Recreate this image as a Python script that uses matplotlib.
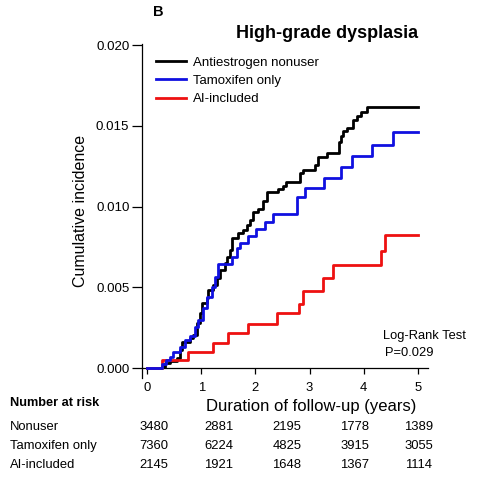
import numpy as np
import matplotlib
matplotlib.use("Agg")
import matplotlib.pyplot as plt
from matplotlib.transforms import blended_transform_factory

plt.rcParams['font.family'] = ['Liberation Sans', 'DejaVu Sans']

# step curves: (years, cumulative incidence) at each jump
nonuser_t = [0, 0.266, 0.327, 0.420, 0.544, 0.605, 0.642, 0.790, 0.851, 0.913, 0.974,
             1.006, 1.098, 1.128, 1.220, 1.283, 1.344, 1.437, 1.468, 1.529, 1.561,
             1.683, 1.775, 1.838, 1.899, 1.960, 2.053, 2.145, 2.208, 2.422, 2.509,
             2.565, 2.824, 2.873, 3.101, 3.162, 3.317, 3.545, 3.591, 3.619, 3.693,
             3.809, 3.872, 3.946, 4.057, 5.0]
nonuser_v = [0, 0.00008, 0.00029, 0.00043, 0.00060, 0.00111, 0.00161, 0.00186, 0.00204,
             0.00279, 0.00341, 0.00401, 0.00432, 0.00483, 0.00514, 0.00557, 0.00607,
             0.00652, 0.00689, 0.00731, 0.00803, 0.00838, 0.00855, 0.00885, 0.00916,
             0.00966, 0.00985, 0.01034, 0.01090, 0.01107, 0.01127, 0.01154, 0.01206,
             0.01226, 0.01257, 0.01305, 0.01331, 0.01399, 0.01437, 0.01468, 0.01486,
             0.01536, 0.01560, 0.01585, 0.01614, 0.01614]

tamox_t = [0, 0.266, 0.346, 0.420, 0.481, 0.605, 0.697, 0.790, 0.882, 0.943, 1.036,
           1.098, 1.191, 1.252, 1.313, 1.561, 1.653, 1.714, 1.868, 2.010, 2.176, 2.330,
           2.768, 2.907, 3.267, 3.582, 3.791, 4.149, 4.538, 5.0]
tamox_v = [0, 0.00025, 0.00050, 0.00068, 0.00099, 0.00130, 0.00173, 0.00198, 0.00254,
           0.00297, 0.00372, 0.00440, 0.00502, 0.00565, 0.00644, 0.00687, 0.00743,
           0.00774, 0.00817, 0.00861, 0.00907, 0.00954, 0.01061, 0.01115, 0.01176,
           0.01246, 0.01313, 0.01381, 0.01459, 0.01459]

ai_t = [0, 0.266, 0.758, 1.220, 1.498, 1.868, 2.393, 2.811, 2.885, 3.243, 3.439,
        4.316, 4.395, 5.0]
ai_v = [0, 0.00050, 0.00101, 0.00153, 0.00215, 0.00272, 0.00339, 0.00396, 0.00479,
        0.00555, 0.00638, 0.00726, 0.00824, 0.00824]

risk_groups = ['Nonuser', 'Tamoxifen only', 'AI-included']
risk_counts = [[3480, 2881, 2195, 1778, 1389],
               [7360, 6224, 4825, 3915, 3055],
               [2145, 1921, 1648, 1367, 1114]]
risk_x = [0.12, 1.32, 2.58, 3.84, 5.02]

fig = plt.figure(figsize=(4.91, 4.78), dpi=100)
ax = fig.add_axes([0.289, 0.2098, 0.5837, 0.698])

l1, = ax.step(nonuser_t, nonuser_v, where='post', color='black', lw=2, zorder=3)
l3, = ax.step(ai_t, ai_v, where='post', color='#ee1111', lw=2, zorder=4)
l2, = ax.step(tamox_t, tamox_v, where='post', color='#1010e0', lw=2, zorder=5)

ax.set_xlim(-0.1, 5.2)
ax.set_ylim(-0.0006, 0.02006)
ax.spines['top'].set_visible(False)
ax.spines['right'].set_visible(False)
ax.spines['bottom'].set_position(('data', 0))
ax.spines['left'].set_linewidth(0.9)
ax.spines['bottom'].set_linewidth(0.9)

ax.set_xticks(range(6))
ax.set_yticks([0, 0.005, 0.010, 0.015, 0.020])
ax.set_yticklabels(['0.000', '0.005', '0.010', '0.015', '0.020'])
ax.tick_params(axis='y', length=7, width=0.9, pad=2, labelsize=9.6)
ax.tick_params(axis='x', length=4, width=0.9, pad=6, labelsize=9.4)

ax.set_ylabel('Cumulative incidence', fontsize=11.5, labelpad=6)

ax.legend([l1, l2, l3], ['Antiestrogen nonuser', 'Tamoxifen only', 'AI-included'],
          loc='upper left', bbox_to_anchor=(0.007, 0.998), frameon=False, fontsize=9.5,
          handlelength=2.3, handletextpad=0.55, labelspacing=0.45)

ax.text(4.35, 0.0020, 'Log-Rank Test', fontsize=9.3, va='center', ha='left')
ax.text(4.39, 0.00095, 'P=0.029', fontsize=9.3, va='center', ha='left')

fig.text(418 / 491, 1 - 33 / 478, 'High-grade dysplasia', fontsize=13, fontweight='bold',
         ha='right', va='center')
fig.text(153 / 491, 1 - 12 / 478, 'B', fontsize=10.5, fontweight='bold', ha='left', va='center')

fig.text(311 / 491, 1 - 406.5 / 478, 'Duration of follow-up (years)', fontsize=12,
         ha='center', va='center')

fig.text(10 / 491, 1 - 403 / 478, 'Number at risk', fontsize=9.2, fontweight='bold',
         ha='left', va='center')
trans = blended_transform_factory(ax.transData, fig.transFigure)
row_y = [1 - 426.7 / 478, 1 - 446 / 478, 1 - 465 / 478]
for name, counts, yy in zip(risk_groups, risk_counts, row_y):
    fig.text(10 / 491, yy, name, fontsize=9.4, ha='left', va='center')
    for xx, c in zip(risk_x, counts):
        ax.text(xx, yy, str(c), fontsize=9.4, ha='center', va='center', transform=trans,
                clip_on=False)

fig.savefig('out.png', dpi=100)
plt.close(fig)
